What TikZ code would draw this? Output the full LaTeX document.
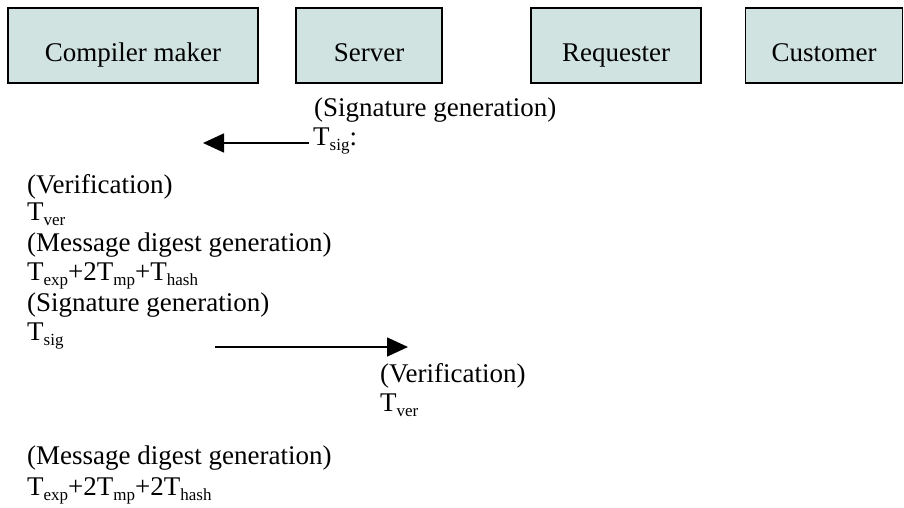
\documentclass[tikz,border=0pt]{standalone}
\usepackage{fontspec}
\setmainfont{Liberation Serif}
\usetikzlibrary{arrows.meta}
\definecolor{boxfill}{HTML}{D0E3E0}
% subscript in the style of the cost terms
\newcommand\sbs[1]{\raisebox{-5pt}{\fontsize{17}{17}\selectfont #1}}
\begin{document}
\begin{tikzpicture}[x=1pt,y=-1pt,
  every node/.style={font=\fontsize{27}{32}\selectfont},
  actor/.style={draw, line width=1.5pt, fill=boxfill, inner sep=0pt,
    minimum height=75pt, text height=33pt, text depth=0pt},
  txt/.style={anchor=base west, inner sep=0pt},
  msg/.style={line width=1.6pt, -{Triangle[length=21pt,width=19pt]}}]
\useasboundingbox (0,0) rectangle (904,508);

% participants
\node[actor, minimum width=250pt] (cm)  at (133,45.5) {Compiler maker};
\node[actor, minimum width=146pt] (srv) at (369,45.5) {Server};
\node[actor, minimum width=170pt] (req) at (616,45.5) {Requester};
\node[actor, minimum width=157pt] (cus) at (824,45.5) {Customer};

% server: signature generation, sent to the compiler maker
\node[txt] (sg1) at (314,117) {(Signature generation)};
\node[txt] (ts1) at (313,146) {T\sbs{sig}:};
\coordinate (a1s) at (309,143);
\coordinate (a1e) at (203,143);
\draw[msg] (a1s) -- (a1e);

% compiler maker
\node[txt] (v1)  at (27,193) {(Verification)};
\node[txt] (tv1) at (27,220) {T\sbs{ver}};
\node[txt] (m1)  at (27,251) {(Message digest generation)};
\node[txt] (te1) at (27,280) {T\sbs{exp}+2T\sbs{mp}+T\sbs{hash}};
\node[txt] (sg2) at (27,311) {(Signature generation)};
\node[txt] (ts2) at (27,340) {T\sbs{sig}};
\coordinate (a2s) at (215,347);
\coordinate (a2e) at (408,347);
\draw[msg] (a2s) -- (a2e);

% server: verification
\node[txt] (v2)  at (380,382) {(Verification)};
\node[txt] (tv2) at (380,411) {T\sbs{ver}};

% final digest
\node[txt] (m2)  at (27,464) {(Message digest generation)};
\node[txt] (te2) at (27,495) {T\sbs{exp}+2T\sbs{mp}+2T\sbs{hash}};
\end{tikzpicture}
\end{document}
